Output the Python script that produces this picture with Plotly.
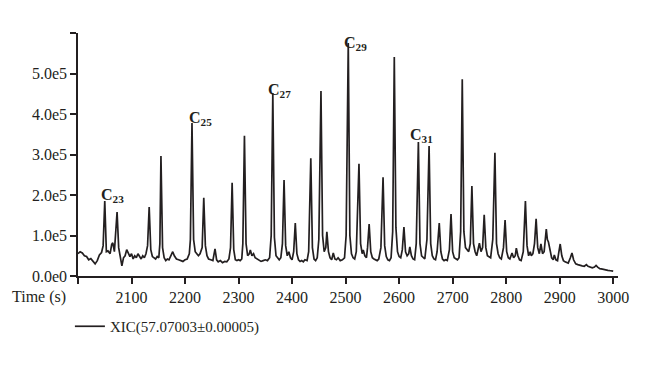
import plotly.graph_objects as go

# Retention time (s) and intensity (counts, in thousands)
time_s = [
    2000, 2004, 2008, 2012, 2016, 2020, 2024, 2028, 2032, 2036, 2040, 2044, 2047, 2050, 2053, 2056, 2060, 2063, 2065, 2068,
    2070, 2073, 2076, 2079, 2082, 2085, 2088, 2091, 2094, 2097, 2100, 2103, 2106, 2109, 2112, 2115, 2118, 2121, 2124, 2127,
    2130, 2133, 2136, 2139, 2142, 2145, 2148, 2151, 2153, 2155, 2158, 2161, 2164, 2167, 2170, 2174, 2177, 2180, 2184, 2188,
    2192, 2196, 2200, 2204, 2208, 2210, 2213, 2216, 2219, 2222, 2225, 2228, 2232, 2235, 2238, 2241, 2244, 2248, 2252, 2256,
    2259, 2262, 2266, 2270, 2274, 2278, 2282, 2285, 2288, 2291, 2294, 2297, 2300, 2303, 2306, 2308, 2311, 2314, 2317, 2320,
    2322, 2325, 2328, 2331, 2334, 2338, 2342, 2346, 2350, 2354, 2358, 2361, 2364, 2367, 2370, 2373, 2376, 2379, 2382, 2385,
    2388, 2391, 2394, 2397, 2400, 2403, 2406, 2409, 2412, 2415, 2418, 2421, 2424, 2428, 2431, 2435, 2438, 2441, 2444, 2447,
    2450, 2454, 2457, 2460, 2463, 2465, 2468, 2471, 2474, 2477, 2480, 2483, 2486, 2490, 2494, 2498, 2501, 2505, 2508, 2511,
    2514, 2517, 2520, 2525, 2528, 2531, 2533, 2536, 2539, 2541, 2544, 2547, 2550, 2553, 2556, 2559, 2562, 2566, 2570, 2573,
    2576, 2579, 2582, 2585, 2588, 2591, 2594, 2597, 2600, 2603, 2606, 2609, 2612, 2615, 2618, 2620, 2623, 2626, 2629, 2632,
    2636, 2639, 2642, 2645, 2648, 2652, 2656, 2659, 2662, 2665, 2668, 2671, 2675, 2678, 2681, 2684, 2687, 2690, 2694, 2697,
    2700, 2703, 2706, 2709, 2712, 2715, 2718, 2721, 2724, 2727, 2730, 2733, 2736, 2739, 2742, 2745, 2748, 2750, 2753, 2756,
    2759, 2762, 2765, 2768, 2771, 2775, 2779, 2782, 2785, 2788, 2791, 2795, 2798, 2801, 2804, 2807, 2811, 2814, 2817, 2819,
    2822, 2825, 2828, 2832, 2836, 2839, 2842, 2845, 2847, 2850, 2853, 2856, 2859, 2862, 2865, 2868, 2871, 2875, 2877, 2879,
    2882, 2885, 2888, 2890, 2893, 2896, 2898, 2901, 2904, 2907, 2910, 2913, 2916, 2920, 2923, 2926, 2930, 2934, 2938, 2942,
    2946, 2950, 2953, 2957, 2961, 2965, 2968, 2971, 2975, 2980, 2985, 2990, 2995, 3000,
]
intensity_k = [
    55, 60, 57, 50, 48, 40, 43, 35, 30, 38, 52, 58, 75, 185, 60, 62, 55, 78, 82, 60,
    95, 158, 70, 45, 25, 45, 50, 65, 55, 48, 55, 42, 50, 45, 55, 48, 42, 50, 45, 55,
    75, 170, 65, 48, 45, 42, 48, 45, 80, 296, 70, 45, 38, 42, 40, 50, 60, 50, 42, 40,
    38, 36, 40, 42, 55, 90, 378, 90, 60, 55, 50, 55, 70, 193, 75, 50, 42, 40, 38, 67,
    40, 35, 38, 33, 36, 35, 42, 70, 230, 65, 40, 38, 40, 38, 42, 80, 346, 80, 50, 55,
    64, 50, 55, 45, 42, 38, 36, 38, 40, 38, 45, 100, 452, 95, 50, 45, 40, 45, 80, 237,
    75, 50, 60, 45, 40, 60, 131, 55, 40, 36, 38, 35, 40, 38, 60, 291, 70, 42, 38, 45,
    90, 457, 100, 60, 70, 109, 60, 45, 40, 57, 42, 40, 45, 38, 40, 45, 100, 575, 100, 55,
    45, 42, 60, 277, 80, 55, 64, 50, 45, 70, 128, 60, 45, 42, 40, 38, 42, 70, 244, 75,
    48, 40, 38, 45, 110, 541, 120, 60, 48, 45, 65, 121, 60, 50, 55, 72, 50, 42, 40, 80,
    331, 80, 50, 45, 42, 90, 321, 80, 50, 42, 40, 60, 131, 60, 42, 38, 40, 38, 65, 153,
    60, 45, 42, 40, 45, 110, 486, 110, 70, 64, 60, 80, 222, 80, 60, 50, 65, 81, 60, 70,
    151, 70, 50, 48, 45, 90, 304, 80, 55, 45, 42, 70, 138, 60, 45, 42, 57, 45, 50, 69,
    50, 40, 38, 60, 185, 75, 50, 60, 50, 55, 80, 141, 70, 55, 79, 55, 60, 116, 90, 84,
    60, 45, 40, 52, 40, 38, 55, 79, 50, 38, 35, 33, 32, 45, 57, 40, 30, 28, 26, 25,
    24, 28, 24, 22, 20, 22, 26, 22, 18, 17, 15, 14, 13, 12,
]
intensity = [v * 1000 for v in intensity_k]

series_name = "XIC(57.07003±0.00005)"

x_ticks = [2000, 2100, 2200, 2300, 2400, 2500, 2600, 2700, 2800, 2900, 3000]
x_tick_text = ["", "2100", "2200", "2300", "2400", "2500", "2600", "2700", "2800", "2900", "3000"]
y_ticks = [0, 100000, 200000, 300000, 400000, 500000, 600000]
y_tick_text = ["0.0e0", "1.0e5", "2.0e5", "3.0e5", "4.0e5", "5.0e5", ""]

# Peak labels (carbon number) and their positions
peak_labels = ["23", "25", "27", "29", "31"]
peak_label_t = [2064, 2228, 2377, 2518, 2641]
peak_label_y = [200000, 390000, 459000, 575000, 348000]

FONT = "Liberation Serif, Times New Roman, serif"
INK = "#231f20"

fig = go.Figure()
fig.add_trace(go.Scatter(
    x=time_s, y=intensity, mode="lines", name=series_name,
    line=dict(color=INK, width=1.7),
))

for lab, t, yv in zip(peak_labels, peak_label_t, peak_label_y):
    fig.add_annotation(
        x=t, y=yv, xref="x", yref="y",
        text=f"<b>C<sub>{lab}</sub></b>", showarrow=False,
        font=dict(family=FONT, size=16, color=INK),
        xanchor="center", yanchor="middle",
    )

fig.add_annotation(
    x=-0.0185, y=-0.086, xref="paper", yref="paper",
    text="Time (s)", showarrow=False,
    font=dict(family=FONT, size=16, color=INK),
    xanchor="right", yanchor="middle",
)

fig.update_layout(
    width=660, height=368,
    margin=dict(l=70, r=50, t=25, b=100, autoexpand=False),
    paper_bgcolor="white", plot_bgcolor="white",
    font=dict(family=FONT, size=16, color=INK),
    showlegend=True,
    legend=dict(
        orientation="h", x=-0.015, xanchor="left", y=-0.14, yanchor="top",
        font=dict(family=FONT, size=15, color=INK),
        bgcolor="rgba(0,0,0,0)",
    ),
    xaxis=dict(
        range=[2000, 3009], tickmode="array", tickvals=x_ticks, ticktext=x_tick_text,
        showgrid=False, zeroline=False, showline=True, linecolor=INK, linewidth=1.5,
        ticks="outside", ticklen=6, tickwidth=1.5, tickcolor=INK,
        tickfont=dict(family=FONT, size=16, color=INK),
    ),
    yaxis=dict(
        range=[0, 600000], tickmode="array", tickvals=y_ticks, ticktext=y_tick_text,
        showgrid=False, zeroline=False, showline=True, linecolor=INK, linewidth=1.5,
        ticks="outside", ticklen=6, tickwidth=1.5, tickcolor=INK,
        tickfont=dict(family=FONT, size=16, color=INK),
    ),
)

fig.write_html("out.html")
